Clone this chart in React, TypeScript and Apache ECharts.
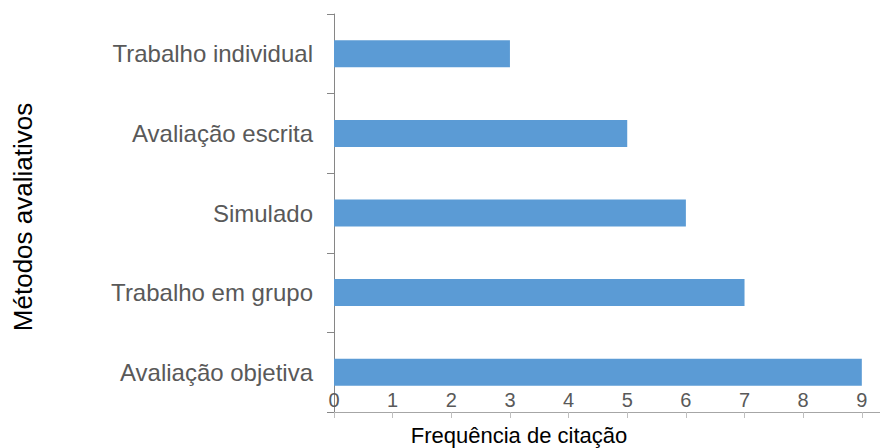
import React, { useEffect, useRef } from "react";
import * as echarts from "echarts";

const categories = [
  "Avaliação objetiva",
  "Trabalho em grupo",
  "Simulado",
  "Avaliação escrita",
  "Trabalho individual",
];
const values = [9, 7, 6, 5, 3];
const tickValues = [0, 1, 2, 3, 4, 5, 6, 7, 8, 9];
const xTitle = "Frequência de citação";
const yTitle = "Métodos avaliativos";

const FONT = "'Liberation Sans', Arial, sans-serif";

export default function App() {
  const ref = useRef<HTMLDivElement>(null);
  useEffect(() => {
    if (!ref.current) return;
    const chart = echarts.init(ref.current, undefined, { renderer: "svg" });
    chart.setOption({
      animation: false,
      backgroundColor: "#ffffff",
      grid: { left: 334, right: 0, top: 14, bottom: 36, containLabel: false },
      xAxis: {
        type: "value",
        min: 0,
        max: 9.31,
        interval: 1,
        axisLine: { show: true, lineStyle: { color: "#a6a6a6", width: 1 } },
        axisTick: {
          show: true,
          length: 6,
          customValues: tickValues,
          lineStyle: { color: "#bfbfbf" },
        },
        axisLabel: {
          customValues: tickValues,
          margin: -12,
          verticalAlign: "middle",
          fontSize: 20,
          color: "#595959",
          fontFamily: FONT,
        },
        splitLine: { show: false },
      },
      yAxis: {
        type: "category",
        data: categories,
        axisLine: { show: true, lineStyle: { color: "#868686", width: 1 } },
        axisTick: {
          show: true,
          length: 7,
          alignWithLabel: false,
          lineStyle: { color: "#868686" },
        },
        axisLabel: {
          margin: 21,
          fontSize: 24,
          color: "#595959",
          fontFamily: FONT,
        },
      },
      series: [
        {
          type: "bar",
          data: values,
          barWidth: 27,
          itemStyle: { color: "#5B9BD5" },
        },
      ],
      graphic: [
        {
          type: "text",
          x: 519,
          y: 435,
          style: {
            text: xTitle,
            fontSize: 22,
            fontFamily: FONT,
            fill: "#000000",
            align: "center",
            verticalAlign: "middle",
          },
        },
        {
          type: "text",
          x: 23,
          y: 217,
          rotation: Math.PI / 2,
          style: {
            text: yTitle,
            fontSize: 26,
            fontFamily: FONT,
            fill: "#000000",
            align: "center",
            verticalAlign: "middle",
          },
        },
      ],
    });
    return () => chart.dispose();
  }, []);
  return (
    <div
      ref={ref}
      style={{ position: "fixed", left: 0, top: 0, width: 880, height: 448 }}
    />
  );
}
